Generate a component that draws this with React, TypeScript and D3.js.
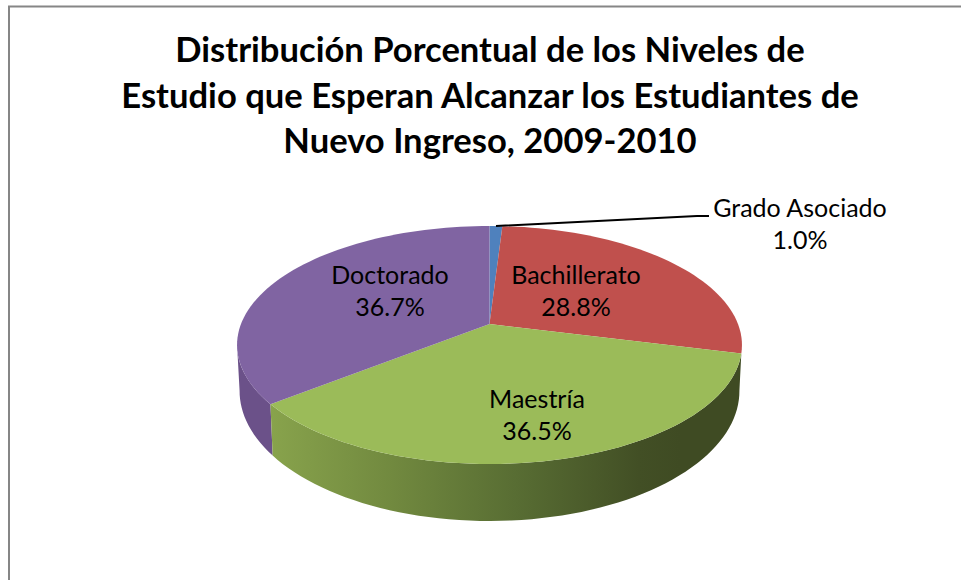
import React from "react";
import * as d3 from "d3";

const width = 961;
const height = 580;

const titleLines = [
  "Distribución Porcentual de los Niveles de",
  "Estudio que Esperan Alcanzar los Estudiantes de",
  "Nuevo Ingreso, 2009-2010",
];
const categories = ["Grado Asociado", "Bachillerato", "Maestría", "Doctorado"];
const values = [1.0, 28.8, 36.5, 36.7];
const colors = ["#4f81bd", "#c0504d", "#9bbb59", "#8064a2"];

// first baseline and centre of each label
const labelX = [800, 576, 537, 390];
const labelY = [217, 284, 408, 284];

// perspective of the tilted disc
const k = 0.1765;
const topFace = { cx: 489.5, cy: 324, rx: 248.5, ry: 115.3 };
const bottomFace = { cx: 489.5, cy: 368, rx: 246, ry: 126 };
const rad = Math.PI / 180;

const project = (face: typeof topFace, a: number): [number, number] => {
  const X = Math.sin(a);
  const Y = -Math.cos(a);
  const w = 1 - k * Y;
  return [face.cx + (face.rx * X) / w, face.cy + (face.ry * Y) / w];
};

const rim = (face: typeof topFace, a0: number, a1: number) => {
  const n = Math.max(2, Math.ceil(Math.abs(a1 - a0) / (rad * 2)));
  return d3.range(n + 1).map(i => project(face, a0 + ((a1 - a0) * i) / n));
};

const line = d3.line();

const slices = d3.pie<number>().sort(null)(values).map((d, i) => ({
  start: d.startAngle,
  end: d.endAngle,
  color: colors[i],
}));

// silhouette of the disc, where the wall stops being visible
const wallRight = 100 * rad;
const wallLeft = 260 * rad;

const greenWall = [
  ...rim(topFace, slices[2].start, slices[2].end),
  ...rim(bottomFace, slices[2].end, wallRight),
];
const purpleWall = [
  ...rim(topFace, slices[3].start, wallLeft),
  ...rim(bottomFace, wallLeft, slices[3].start),
];

export default function App() {
  return (
    <svg
      width={width}
      height={height}
      style={{ position: "absolute", left: 0, top: 0, background: "#fff" }}
    >
      <defs>
        <linearGradient
          id="wallGreen"
          gradientUnits="userSpaceOnUse"
          x1={270}
          x2={680}
          y1={0}
          y2={0}
        >
          <stop offset="0" stopColor="#88a34c" />
          <stop offset="0.3" stopColor="#71893f" />
          <stop offset="0.6" stopColor="#586d33" />
          <stop offset="0.9" stopColor="#424f25" />
          <stop offset="1" stopColor="#3f4b23" />
        </linearGradient>
      </defs>

      <path d={`M9,${height}V6.5H${width}`} fill="none" stroke="#868686" strokeWidth={2} />

      <g
        fontFamily="Lato, 'Open Sans', sans-serif"
        fontWeight={700}
        fontSize={34.6}
        textAnchor="middle"
        fill="#000"
      >
        {titleLines.map((t, i) => (
          <text key={t} x={490} y={62 + i * 45.7}>
            {t}
          </text>
        ))}
      </g>

      <path d={line(purpleWall) + "Z"} fill="#6b5189" />
      <path d={line(greenWall) + "Z"} fill="url(#wallGreen)" />

      {slices.map(s => (
        <path
          key={s.color}
          d={line([[topFace.cx, topFace.cy], ...rim(topFace, s.start, s.end)]) + "Z"}
          fill={s.color}
        />
      ))}

      <polyline points="496,226 697,216 709,216" fill="none" stroke="#000" strokeWidth={2} />

      <g fontFamily="Lato, 'Open Sans', sans-serif" fontSize={25} textAnchor="middle" fill="#000">
        {categories.map((c, i) => (
          <text key={c} x={labelX[i]} y={labelY[i]}>
            <tspan x={labelX[i]}>{c}</tspan>
            <tspan x={labelX[i]} dy={32}>{d3.format(".1f")(values[i])}%</tspan>
          </text>
        ))}
      </g>
    </svg>
  );
}
